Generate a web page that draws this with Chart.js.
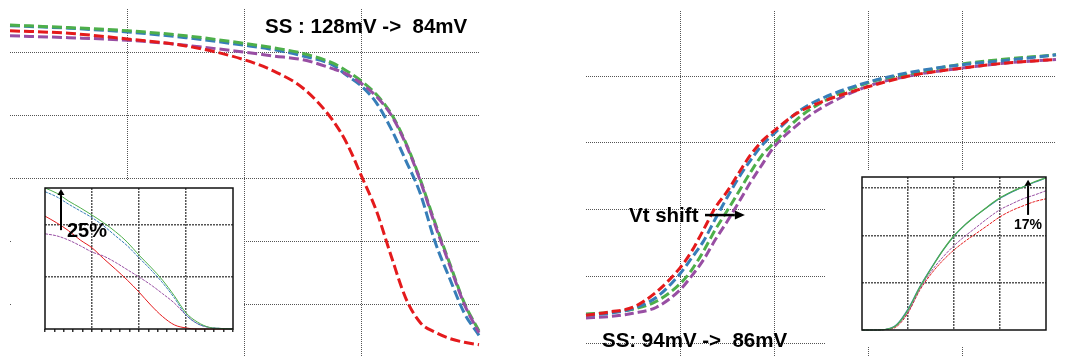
<!DOCTYPE html>
<html>
<head>
<meta charset="utf-8">
<script src="https://cdn.jsdelivr.net/npm/chart.js@4.4.0/dist/chart.umd.min.js"></script>
<style>
  html, body { margin: 0; padding: 0; background: #fff; overflow: hidden; }
  #page { position: relative; width: 1073px; height: 358px; font-family: "Liberation Sans", Arial, sans-serif; }
  canvas { position: absolute; }
  .box { position: absolute; background: #fff; }
  .lbl { position: absolute; font-weight: bold; white-space: pre; color: #000; font-size: 20.5px; line-height: 20px; }
</style>
</head>
<body>
<div id="page">
  <canvas id="leftMain" width="540" height="358" style="left:0;top:0"></canvas>
  <canvas id="rightMain" width="533" height="358" style="left:540px;top:0"></canvas>

  <div class="box" style="left:12px;top:181px;width:231px;height:177px">
    <canvas id="leftInset" width="231" height="177" style="left:0;top:0"></canvas>
  </div>
  <div class="box" style="left:826px;top:171px;width:247px;height:176px">
    <canvas id="rightInset" width="247" height="176" style="left:0;top:0"></canvas>
  </div>

  <div class="lbl" style="left:265px;top:16px">SS : 128mV ->  84mV</div>
  <div class="lbl" style="left:629px;top:205px">Vt shift</div>
  <div class="lbl" style="left:602px;top:330px">SS: 94mV ->  86mV</div>
  <div class="lbl" style="left:67px;top:220px;font-size:20px">25%</div>
  <div class="lbl" style="left:1014px;top:217px;font-size:14px;line-height:14px">17%</div>
</div>

<script>
// --- Dados (unidades de grade) ---

// painel esquerdo (curvas decrescentes)
const leftMainX      = [0, 0.5, 1, 1.5, 2, 2.25, 2.5, 2.75, 2.875, 3, 3.125, 3.25, 3.375, 3.5, 3.625, 3.75, 3.875, 4];
const leftMainRed    = [5.34, 5.30, 5.21, 5.10, 4.88, 4.70, 4.43, 3.93, 3.55, 3.03, 2.49, 1.78, 1.11, 0.72, 0.57, 0.47, 0.41, 0.37];
const leftMainGreen  = [5.43, 5.39, 5.34, 5.26, 5.14, 5.07, 4.98, 4.83, 4.70, 4.54, 4.33, 4.03, 3.57, 2.98, 2.30, 1.66, 1.03, 0.59];
const leftMainBlue   = [5.42, 5.38, 5.32, 5.23, 5.11, 5.04, 4.94, 4.80, 4.63, 4.46, 4.20, 3.79, 3.29, 2.76, 2.00, 1.42, 0.87, 0.52];
const leftMainPurple = [5.26, 5.23, 5.19, 5.11, 5.00, 4.94, 4.88, 4.74, 4.65, 4.50, 4.30, 4.01, 3.55, 2.96, 2.27, 1.63, 1.01, 0.56];

// detalhe do painel esquerdo
const leftInsetX      = [0, 0.25, 0.5, 0.75, 1, 1.25, 1.5, 1.75, 2, 2.25, 2.5, 2.75, 3, 3.25, 3.5, 3.75, 4];
const leftInsetGreen  = [2.71, 2.61, 2.46, 2.33, 2.19, 2.04, 1.87, 1.67, 1.42, 1.19, 0.94, 0.64, 0.31, 0.13, 0.03, 0.01, 0];
const leftInsetBlue   = [2.64, 2.54, 2.40, 2.27, 2.14, 1.98, 1.79, 1.60, 1.37, 1.14, 0.89, 0.60, 0.27, 0.10, 0.03, 0.01, 0];
const leftInsetPurple = [1.83, 1.79, 1.71, 1.60, 1.48, 1.40, 1.28, 1.14, 1.00, 0.85, 0.68, 0.50, 0.27, 0.10, 0.03, 0.01, 0];
const leftInsetRed    = [2.17, 2.04, 1.89, 1.71, 1.56, 1.35, 1.15, 0.94, 0.71, 0.46, 0.24, 0.08, 0.02, 0, 0, 0, 0];
const leftInsetMinorX = [0, 0.2, 0.4, 0.6, 0.8, 1, 1.2, 1.4, 1.6, 1.8, 2, 2.2, 2.4, 2.6, 2.8, 3, 3.2, 3.4, 3.6, 3.8, 4];

// painel direito (curvas crescentes)
const rightMainX      = [0, 0.25, 0.5, 0.75, 1, 1.125, 1.25, 1.375, 1.5, 1.625, 1.75, 1.875, 2, 2.25, 2.5, 3, 3.5, 4, 4.5, 5, 5.18];
const rightMainRed    = [1.42, 1.47, 1.54, 1.77, 2.13, 2.38, 2.70, 3.03, 3.27, 3.55, 3.82, 4.03, 4.18, 4.45, 4.61, 4.84, 5.02, 5.12, 5.20, 5.25, 5.27];
const rightMainBlue   = [1.42, 1.45, 1.52, 1.69, 2.04, 2.28, 2.53, 2.86, 3.18, 3.48, 3.74, 3.97, 4.14, 4.46, 4.66, 4.91, 5.07, 5.17, 5.24, 5.32, 5.35];
const rightMainGreen  = [1.44, 1.46, 1.51, 1.63, 1.89, 2.10, 2.38, 2.70, 2.98, 3.27, 3.56, 3.82, 4.00, 4.36, 4.60, 4.90, 5.05, 5.18, 5.26, 5.32, 5.35];
const rightMainPurple = [1.38, 1.40, 1.45, 1.54, 1.80, 2.01, 2.25, 2.55, 2.82, 3.11, 3.41, 3.68, 3.94, 4.27, 4.52, 4.85, 5.02, 5.12, 5.20, 5.25, 5.27];

// detalhe do painel direito
const rightInsetX      = [0, 0.25, 0.5, 0.75, 1, 1.25, 1.5, 1.75, 2, 2.25, 2.5, 2.75, 3, 3.25, 3.5, 3.75, 4];
const rightInsetGreen  = [0, 0, 0.01, 0.10, 0.42, 0.89, 1.29, 1.67, 1.99, 2.23, 2.43, 2.62, 2.79, 2.92, 3.02, 3.13, 3.21];
const rightInsetBlue   = [0, 0, 0.01, 0.11, 0.44, 0.90, 1.30, 1.67, 1.98, 2.23, 2.43, 2.61, 2.78, 2.91, 3.02, 3.12, 3.21];
const rightInsetPurple = [0, 0, 0.01, 0.09, 0.38, 0.85, 1.23, 1.53, 1.78, 1.99, 2.18, 2.37, 2.54, 2.66, 2.77, 2.85, 2.94];
const rightInsetRed    = [0, 0, 0.01, 0.07, 0.36, 0.83, 1.18, 1.46, 1.69, 1.88, 2.05, 2.22, 2.39, 2.52, 2.62, 2.71, 2.77];

// setas (em unidades do eixo)
const leftInsetArrow  = { x1: 0.34, y1: 1.90, x2: 0.34, y2: 2.69 };
const rightInsetArrow = { x1: 3.61, y1: 2.43, x2: 3.61, y2: 3.17 };
const vtShiftArrow    = { x1: 1.266, y1: 2.92, x2: 1.69, y2: 2.92 };

const RED = '#e41a1c', BLUE = '#377eb8', GREEN = '#4daf4a', PURPLE = '#984ea3';

// --- Funções auxiliares ---

function points(xs, ys) {
    return xs.map((x, i) => ({ x: x, y: ys[i] }));
}

function axis(min, max, tickValues, gridValues, grid) {
    return {
        type: 'linear',
        min: min,
        max: max,
        afterBuildTicks: scale => { scale.ticks = tickValues.map(v => ({ value: v })); },
        ticks: { display: false },
        border: { display: false, dash: grid.dash },
        grid: {
            color: c => (c.tick && gridValues.includes(c.tick.value)) ? grid.color : 'rgba(0,0,0,0)',
            lineWidth: grid.width,
            drawTicks: !!grid.tickLength,
            tickLength: grid.tickLength || 0,
            tickColor: '#333',
            tickBorderDash: []
        }
    };
}

function arrowPlugin(a, lw, headLen, headHalf) {
    return {
        id: 'arrow',
        afterDatasetsDraw(chart) {
            const ctx = chart.ctx, sx = chart.scales.x, sy = chart.scales.y;
            const x1 = sx.getPixelForValue(a.x1), y1 = sy.getPixelForValue(a.y1);
            const x2 = sx.getPixelForValue(a.x2), y2 = sy.getPixelForValue(a.y2);
            const ang = Math.atan2(y2 - y1, x2 - x1);
            const bx = x2 - headLen * Math.cos(ang), by = y2 - headLen * Math.sin(ang);
            ctx.save();
            ctx.setLineDash([]);
            ctx.strokeStyle = '#000';
            ctx.fillStyle = '#000';
            ctx.lineWidth = lw;
            ctx.beginPath();
            ctx.moveTo(x1, y1);
            ctx.lineTo(bx, by);
            ctx.stroke();
            ctx.beginPath();
            ctx.moveTo(x2, y2);
            ctx.lineTo(bx + headHalf * Math.sin(ang), by - headHalf * Math.cos(ang));
            ctx.lineTo(bx - headHalf * Math.sin(ang), by + headHalf * Math.cos(ang));
            ctx.closePath();
            ctx.fill();
            ctx.restore();
        }
    };
}

// moldura preta dos gráficos de detalhe
const framePlugin = {
    id: 'frame',
    afterDraw(chart) {
        const a = chart.chartArea, ctx = chart.ctx;
        ctx.save();
        ctx.setLineDash([]);
        ctx.strokeStyle = '#111';
        ctx.lineWidth = 1.5;
        ctx.strokeRect(a.left, a.top, a.right - a.left, a.bottom - a.top);
        ctx.restore();
    }
};

function buildChart(id, cfg) {
    const datasets = cfg.series.map(s => ({
        data: points(cfg.xs, s.ys),
        borderColor: s.color,
        borderWidth: s.width,
        borderDash: s.dash || [],
        pointRadius: 0,
        fill: false,
        cubicInterpolationMode: 'monotone',
        clip: false
    }));
    return new Chart(document.getElementById(id), {
        type: 'line',
        data: { datasets: datasets },
        options: {
            responsive: false,
            animation: false,
            devicePixelRatio: 1,
            layout: { padding: cfg.padding, autoPadding: false },
            plugins: { legend: { display: false }, tooltip: { enabled: false } },
            scales: {
                x: axis(cfg.xMin, cfg.xMax, cfg.xTicks, cfg.xGrid, cfg.gridX),
                y: axis(cfg.yMin, cfg.yMax, cfg.yTicks, cfg.yGrid, cfg.gridY)
            }
        },
        plugins: cfg.plugins || []
    });
}

const mainGrid  = { color: '#555', width: 1, dash: [1, 1] };
const insetGrid = { color: '#555', width: 1.5, dash: [2, 1] };

// --- Gráficos ---

buildChart('leftMain', {
    xs: leftMainX,
    series: [
        { ys: leftMainRed, color: RED, width: 3, dash: [10, 4] },
        { ys: leftMainPurple, color: PURPLE, width: 3, dash: [10, 4] },
        { ys: leftMainGreen, color: GREEN, width: 3, dash: [10, 4] },
        { ys: leftMainBlue, color: BLUE, width: 3, dash: [10, 4] }
    ],
    xMin: 0, xMax: 4, xTicks: [1, 2, 3], xGrid: [1, 2, 3],
    yMin: 0.177, yMax: 5.684, yTicks: [1, 2, 3, 4, 5], yGrid: [1, 2, 3, 4, 5],
    gridX: mainGrid, gridY: mainGrid,
    padding: { left: 10, top: 9, right: 61, bottom: 1 }
});

buildChart('rightMain', {
    xs: rightMainX,
    series: [
        { ys: rightMainRed, color: RED, width: 3, dash: [9, 4] },
        { ys: rightMainBlue, color: BLUE, width: 3, dash: [9, 4] },
        { ys: rightMainGreen, color: GREEN, width: 3, dash: [9, 4] },
        { ys: rightMainPurple, color: PURPLE, width: 3, dash: [9, 4] }
    ],
    xMin: 0, xMax: 5, xTicks: [1, 2, 3, 4], xGrid: [1, 2, 3, 4],
    yMin: 0.795, yMax: 5.975, yTicks: [1, 2, 3, 4, 5], yGrid: [1, 2, 3, 4, 5],
    gridX: mainGrid, gridY: mainGrid,
    padding: { left: 46, top: 11, right: 17, bottom: 1 },
    plugins: [arrowPlugin(vtShiftArrow, 2.5, 10, 4.5)]
});

buildChart('leftInset', {
    xs: leftInsetX,
    series: [
        { ys: leftInsetGreen, color: GREEN, width: 1 },
        { ys: leftInsetBlue, color: BLUE, width: 1, dash: [3, 1] },
        { ys: leftInsetPurple, color: PURPLE, width: 1, dash: [3, 1] },
        { ys: leftInsetRed, color: RED, width: 1 }
    ],
    xMin: 0, xMax: 4, xTicks: leftInsetMinorX, xGrid: [1, 2, 3],
    yMin: 0, yMax: 2.71, yTicks: [1, 2], yGrid: [1, 2],
    gridX: Object.assign({ tickLength: 3 }, insetGrid), gridY: insetGrid,
    padding: { left: 33, top: 7, right: 10, bottom: 26 },
    plugins: [framePlugin, arrowPlugin(leftInsetArrow, 2, 6, 3.5)]
});

buildChart('rightInset', {
    xs: rightInsetX,
    series: [
        { ys: rightInsetGreen, color: GREEN, width: 1.2 },
        { ys: rightInsetBlue, color: BLUE, width: 1.2 },
        { ys: rightInsetPurple, color: PURPLE, width: 1, dash: [3, 1] },
        { ys: rightInsetRed, color: RED, width: 1, dash: [3, 1] }
    ],
    xMin: 0, xMax: 4, xTicks: [1, 2, 3], xGrid: [1, 2, 3],
    yMin: 0, yMax: 3.23, yTicks: [1, 2, 3], yGrid: [1, 2, 3],
    gridX: insetGrid, gridY: insetGrid,
    padding: { left: 36, top: 6, right: 27, bottom: 17 },
    plugins: [framePlugin, arrowPlugin(rightInsetArrow, 2, 6, 3.5)]
});
</script>
</body>
</html>
